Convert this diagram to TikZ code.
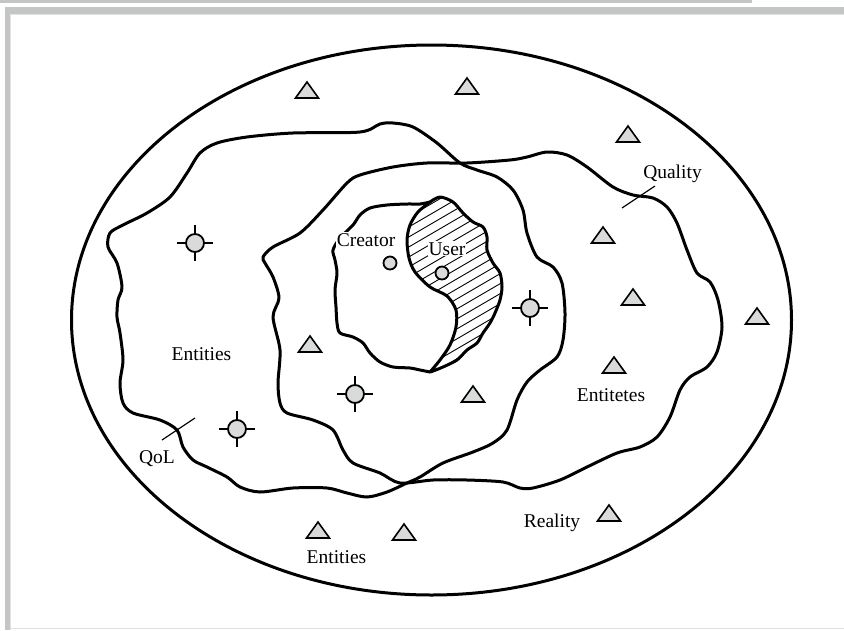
\documentclass[tikz,border=0pt]{standalone}
\usepackage{fontspec}
\setmainfont{Liberation Serif}
\usepackage{xcolor}
\usepackage{tikz}
\usetikzlibrary{positioning}
\definecolor{framegrey}{RGB}{196,198,197}
\definecolor{lightframe}{RGB}{224,226,225}
\definecolor{symgrey}{RGB}{217,219,218}
\tikzset{
  boundary/.style={line width=3pt, black, line join=round},
  thinline/.style={line width=1.2pt, black},
  hatch/.style={line width=0.9pt, black},
  tri/.style={draw=black, fill=symgrey, line width=1.6pt},
  spot/.style={draw=black, fill=symgrey, line width=1.8pt},
  areatext/.style={font=\fontsize{19.5}{22}\selectfont, inner sep=1pt, anchor=base},
  cuttext/.style={areatext, fill=white}
}

\begin{document}
\begin{tikzpicture}[x=1pt, y=-1pt]
  \useasboundingbox (0,0) rectangle (844,630);
  % Page frame
  \draw[framegrey, line width=3pt] (0,1.5) -- (752,1.5);
  \fill[framegrey] (5,6.5) rectangle (844,13.5);
  \fill[framegrey] (5,6.5) rectangle (10,630);
  \draw[lightframe, line width=1.2pt] (10.6,630) -- (10.6,14.1) -- (844,14.1);
  \draw[lightframe, line width=1.2pt] (10,628.6) -- (844,628.6);

  % Reality
  \draw[boundary] (431.5,320) ellipse [x radius=360pt, y radius=275pt];

  % QoL region
  \draw[boundary] plot[smooth cycle] coordinates {(110,233) (123,225) (147,213) (170,197) (187,173) (200,153) (217,143) (247,137) (293,133) (360,132) (380,124) (393,123) (413,127) (437,143) (460,163) (477,170) (497,177) (513,190) (523,210) (527,233) (537,257) (553,267) (562,283) (565,313) (563,340) (557,357) (540,370) (527,382) (517,400) (507,430) (493,443) (473,452) (443,463) (420,477) (407,483) (387,492) (367,497) (347,493) (327,488) (293,488) (260,492) (240,487) (227,477) (207,467) (193,460) (183,447) (177,430) (160,420) (133,413) (123,403) (120,383) (123,360) (120,333) (117,317) (118,300) (122,287) (117,263) (108,247)};

  % Quality region
  \draw[boundary] plot[smooth cycle] coordinates {(263,257) (273,247) (300,233) (323,210) (347,183) (360,175) (393,167) (427,163) (467,163) (510,160) (527,157) (547,152) (567,155) (587,167) (613,187) (633,195) (653,198) (667,207) (677,223) (687,250) (697,273) (710,282) (718,300) (722,327) (717,352) (707,367) (690,377) (680,390) (670,417) (657,437) (640,447) (617,453) (587,467) (560,480) (533,488) (520,488) (503,482) (467,480) (433,480) (400,483) (380,473) (353,463) (343,450) (333,430) (313,420) (287,413) (280,403) (278,383) (280,350) (273,317) (279,298) (273,277) (265,263)};

  % Creator region
  \draw[boundary] plot[smooth] coordinates {(430,372) (420,370) (410,368) (393,367) (380,362) (370,353) (363,343) (353,337) (340,333) (337,323) (336,307) (335,290) (337,273) (335,260) (333,250) (340,238) (353,225) (360,215) (370,208) (387,205) (407,204) (420,204) (430,202)};

  % User region, hatched
  \draw[boundary, path picture={
      \foreach \c in {165,175,...,475}
        \draw[hatch] (395,\c) -- (515,\c-70);
    }] plot[smooth] coordinates {(430,202) (418,212) (410,225) (407,240) (409,258) (415,272) (430,287) (447,296) (456,310) (456,327) (450,345) (440,360) (430,372)}
    --plot[smooth] coordinates {(433,371) (443,367) (457,360) (467,350) (477,343) (483,333) (490,323) (495,313) (500,300) (502,287) (500,273) (493,263) (487,250) (487,237) (483,227) (473,222) (463,213) (453,202) (440,197) (430,202)} -- cycle;

  % Ticks for the labels
  \draw[thinline] (162,440) -- (195,418);
  \draw[thinline] (622,208) -- (655,186);

  % Entities (triangles)
  \foreach \x/\y in {307/98, 467/94, 628/142, 603/243, 633/305, 757/324, 614/373, 473/402, 310/352, 318/538, 404/540, 609/521}
    \draw[tri] (\x-11.5,\y) -- (\x+11.5,\y) -- (\x,\y-16) -- cycle;

  % Entities (crosshairs)
  \foreach \x/\y in {195/243, 530/308, 355/394, 237/429} {
    \draw[thinline] (\x-18,\y) -- (\x+18,\y) (\x,\y-18) -- (\x,\y+18);
    \filldraw[spot] (\x,\y) circle (9pt);
  }

  % Labels
  \node[cuttext] (creator) at (366,246) {Creator};
  \node[cuttext] (user) at (447,255) {User};
  \filldraw[spot] (390,263) circle (6.5pt);
  \filldraw[spot] (442,273) circle (6.5pt);
  \node[areatext] (entleft) at (201.5,360) {Entities};
  \node[areatext] (qol) at (157,463) {QoL};
  \node[areatext] (entbottom) at (336.5,563) {Entities};
  \node[areatext] (entitetes) at (611,401) {Entitetes};
  \node[areatext] (reality) at (552,527) {Reality};
  \node[areatext] (quality) at (672.5,178) {Quality};
\end{tikzpicture}
\end{document}
